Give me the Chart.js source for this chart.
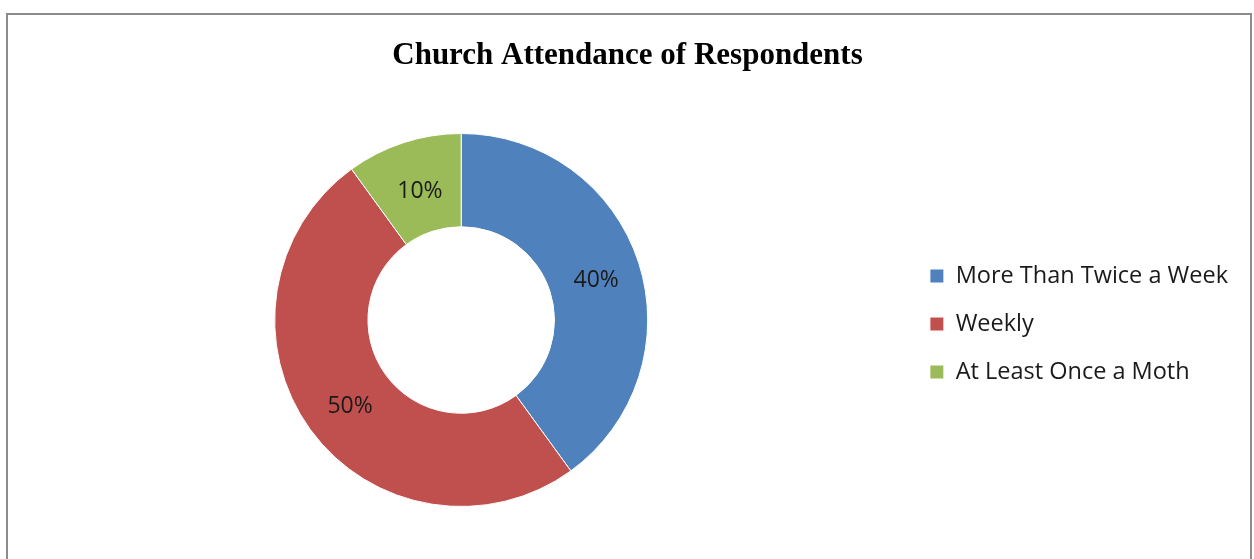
<!DOCTYPE html>
<html>
<head>
<meta charset="utf-8">
<script src="https://cdn.jsdelivr.net/npm/chart.js@4"></script>
<style>
    html, body { margin: 0; padding: 0; background: #fff; overflow: hidden; }
    #frame {
        position: absolute; left: 6px; top: 13px;
        width: 1242px; height: 600px;
        border: 2px solid #8c8c8c;
    }
    #chart { position: absolute; left: 0; top: 0; }
</style>
</head>
<body>
<div id="frame"></div>
<canvas id="chart" width="1254" height="559"></canvas>
<script>
let labels = ['More Than Twice a Week', 'Weekly', 'At Least Once a Moth'];
let percents = [40, 50, 10];
let colors = ['#4f81bd', '#c0504d', '#9bbb59'];

// draws "40%" etc at each arc's centroid
const sliceLabels = {
    id: 'sliceLabels',
    afterDatasetsDraw(chart) {
        const ctx = chart.ctx;
        const meta = chart.getDatasetMeta(0);
        ctx.save();
        ctx.font = '23px "Open Sans"';
        ctx.fillStyle = '#1a1a1a';
        ctx.textAlign = 'center';
        ctx.textBaseline = 'middle';
        meta.data.forEach((arc, i) => {
            const pos = arc.tooltipPosition();
            ctx.fillText(percents[i] + '%', pos.x + 2, pos.y + 4);
        });
        ctx.restore();
    }
};

// nudge the legend block down a little
const legendNudge = {
    id: 'legendNudge',
    afterLayout(chart) {
        chart.legend.top += 4;
        chart.legend.bottom += 4;
    }
};

const ctx = document.getElementById('chart').getContext('2d');
const myChart = new Chart(ctx, {
    type: 'doughnut',
    data: {
        labels: labels,
        datasets: [{
            data: percents,
            backgroundColor: colors,
            borderColor: '#ffffff',
            borderWidth: 1
        }]
    },
    options: {
        responsive: false,
        animation: false,
        cutout: '50%',
        layout: {
            padding: { top: 30, bottom: 52, left: 17, right: 16 }
        },
        plugins: {
            title: {
                display: true,
                text: 'Church Attendance of Respondents',
                color: '#000',
                font: { family: '"Liberation Serif", "Times New Roman", serif', size: 31, weight: 'bold' },
                padding: { top: 7, bottom: 58.8 }
            },
            legend: {
                position: 'right',
                fullSize: false,
                labels: {
                    boxWidth: 14,
                    boxHeight: 14,
                    padding: 24.5,
                    color: '#1a1a1a',
                    font: { family: '"Open Sans"', size: 23.5 }
                }
            },
            tooltip: { enabled: false }
        }
    },
    plugins: [sliceLabels, legendNudge]
});
</script>
</body>
</html>
